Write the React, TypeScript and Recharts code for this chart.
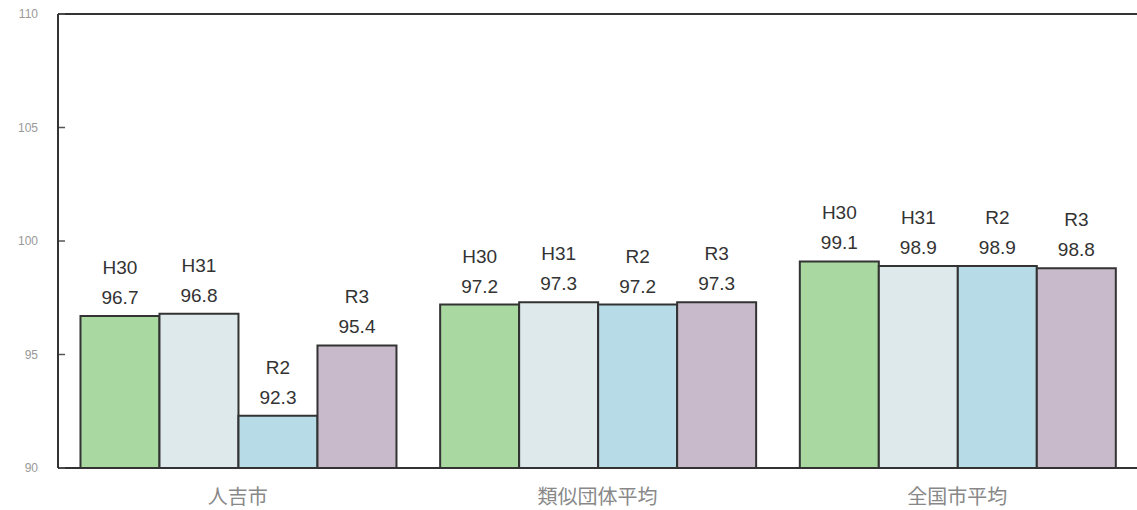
import { Bar, BarChart, LabelList, ReferenceLine, XAxis, YAxis } from 'recharts';

const categories = ['人吉市', '類似団体平均', '全国市平均'];
const seriesNames = ['H30', 'H31', 'R2', 'R3'];
const h30 = [96.7, 97.2, 99.1];
const h31 = [96.8, 97.3, 98.9];
const r2 = [92.3, 97.2, 98.9];
const r3 = [95.4, 97.3, 98.8];
const yTicks = [90, 95, 100, 105, 110];

const seriesValues = [h30, h31, r2, r3];
const seriesColors = ['#a9d8a1', '#dde9ea', '#b7dbe7', '#c9bacb'];

const data = categories.map((name, i) => {
  const row: Record<string, string | number> = { name };
  seriesNames.forEach((s, j) => {
    row[s] = seriesValues[j][i];
  });
  return row;
});

const TEXT_FONT = '"Liberation Sans", Arial, sans-serif';

// two-line label above each bar: series name, then the value
function makeLabel(series: string) {
  return (props: any) => {
    const { x, y, width, value } = props;
    const cx = x + width / 2;
    return (
      <g>
        <text x={cx} y={y - 42} textAnchor="middle" fill="#333" fontSize={19} fontFamily={TEXT_FONT}>
          {series}
        </text>
        <text x={cx} y={y - 12} textAnchor="middle" fill="#333" fontSize={19} fontFamily={TEXT_FONT}>
          {Number(value).toFixed(1)}
        </text>
      </g>
    );
  };
}

function YTick(props: any) {
  const { x, y, payload } = props;
  return (
    <g>
      <line x1={x + 1} x2={x + 7} y1={y} y2={y} stroke="#555" strokeWidth={1.5} />
      <text x={x - 20} y={y + 4} textAnchor="end" fill="#999" fontSize={12} fontFamily={TEXT_FONT}>
        {payload.value}
      </text>
    </g>
  );
}

export default function App() {
  return (
    <div style={{ width: 1137, height: 510, background: '#fff' }}>
      <style>{'body{margin:0}'}</style>
      <BarChart
        width={1137}
        height={510}
        data={data}
        margin={{ top: 14, right: 0, left: 0, bottom: 0 }}
        barCategoryGap="6.25%"
        barGap={0}
      >
        <XAxis
          dataKey="name"
          height={42}
          axisLine={{ stroke: '#333', strokeWidth: 2 }}
          tickLine={false}
          tickMargin={16}
          tick={{ fill: '#888', fontSize: 20, fontFamily: '"Noto Sans CJK JP", sans-serif' }}
        />
        <YAxis
          domain={[90, 110]}
          ticks={yTicks}
          width={58}
          allowDataOverflow
          axisLine={{ stroke: '#333', strokeWidth: 2 }}
          tickLine={false}
          tickSize={0}
          tickMargin={0}
          tick={<YTick />}
        />
        <ReferenceLine y={110} stroke="#333" strokeWidth={2} />
        {seriesNames.map((s, j) => (
          <Bar
            key={s}
            dataKey={s}
            fill={seriesColors[j]}
            stroke="#333"
            strokeWidth={2}
            isAnimationActive={false}
          >
            <LabelList dataKey={s} content={makeLabel(s)} />
          </Bar>
        ))}
      </BarChart>
    </div>
  );
}
